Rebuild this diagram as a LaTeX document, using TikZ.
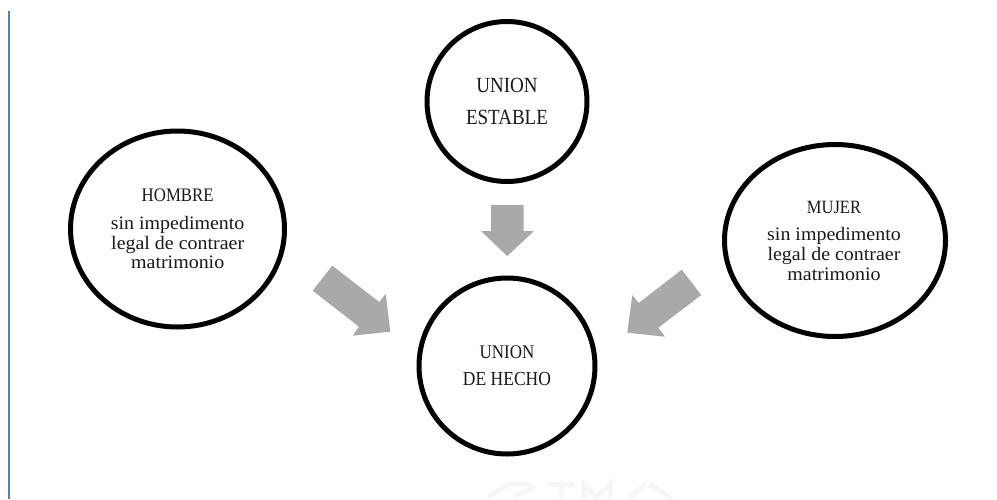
\documentclass[tikz,border=0pt]{standalone}
\usepackage{fontspec}
\usetikzlibrary{shapes.geometric}
\setmainfont{Liberation Serif}
\newfontfamily\lowfont[FakeStretch=1.05]{Liberation Serif}
\newfontfamily\capfont[FakeStretch=0.88]{Liberation Serif}
\definecolor{arrowgray}{HTML}{A9A9A9}
\definecolor{ruleblue}{HTML}{4F81BD}
\definecolor{inkdark}{HTML}{1A1A1A}
\definecolor{markgray}{HTML}{F6F6F6}
\tikzset{
  x=1pt,y=-1pt,
  ring/.style={draw=black,line width=5pt,ellipse,inner sep=0pt,fill=white},
  caps/.style={anchor=base,inner sep=0pt,text=inkdark,font=\capfont\fontsize{#1}{#1}\selectfont},
  low/.style={anchor=base,inner sep=0pt,text=inkdark,font=\lowfont\fontsize{19}{19}\selectfont},
  bigarrow/.style={fill=arrowgray,draw=none},
  markstroke/.style={draw=markgray,line width=5pt}
}
\begin{document}
\begin{tikzpicture}
\useasboundingbox (0,0) rectangle (997,499);
\fill[white] (0,0) rectangle (997,499);
\clip (0,0) rectangle (997,499);
\fill[ruleblue] (8,11) rectangle (10,499);
% faint watermark cut off by the page edge
\draw[markstroke] (488,497) -- (510,484) -- (530,484) (515,497) -- (535,486);
\draw[markstroke] (548,484) -- (574,484) (561,484) -- (561,499);
\draw[markstroke] (584,499) -- (584,484) -- (597,497) -- (610,484) -- (610,499);
\draw[markstroke] (628,499) -- (646,484) (650,484) -- (672,499);
% circles
\node[ring,minimum width=160pt,minimum height=160pt] (estable) at (507,101.5) {};
\node[ring,minimum width=214pt,minimum height=196pt] (hombre) at (177.5,229) {};
\node[ring,minimum width=221pt,minimum height=192pt] (mujer) at (835,240.5) {};
\node[ring,minimum width=176pt,minimum height=176pt] (hecho) at (507,366) {};
% texts
\node[caps=21.6] (t1) at (507,92.7) {UNION};
\node[caps=21.6] (t2) at (507,124) {ESTABLE};
\node[caps=19.1] (t3) at (177.7,201) {HOMBRE};
\node[low] (t4) at (177.7,229) {sin impedimento};
\node[low] (t5) at (177.7,249) {legal de contraer};
\node[low] (t6) at (177.7,268) {matrimonio};
\node[caps=18.75] (t7) at (834,213) {MUJER};
\node[low] (t8) at (834,240.7) {sin impedimento};
\node[low] (t9) at (834,260.7) {legal de contraer};
\node[low] (t10) at (834,280.7) {matrimonio};
\node[caps=19.3] (t11) at (507,358.3) {UNION};
\node[caps=19.9] (t12) at (507,385) {DE HECHO};
% block arrows
\fill[bigarrow] (491,205) -- (523.5,205) -- (523.5,231) -- (534,231) -- (507.3,256) -- (481,231) -- (491,231) -- cycle;
\fill[bigarrow] (332.3,265.7) -- (312.7,290.7) -- (359,326.7) -- (352.7,335.7) -- (390.3,331.7) -- (385.7,294) -- (379.3,302) -- cycle;
\fill[bigarrow] (681.7,269.7) -- (701.3,295) -- (658.3,327.7) -- (665,336.7) -- (627.3,332.7) -- (632.3,295) -- (638.7,303) -- cycle;
\end{tikzpicture}
\end{document}
